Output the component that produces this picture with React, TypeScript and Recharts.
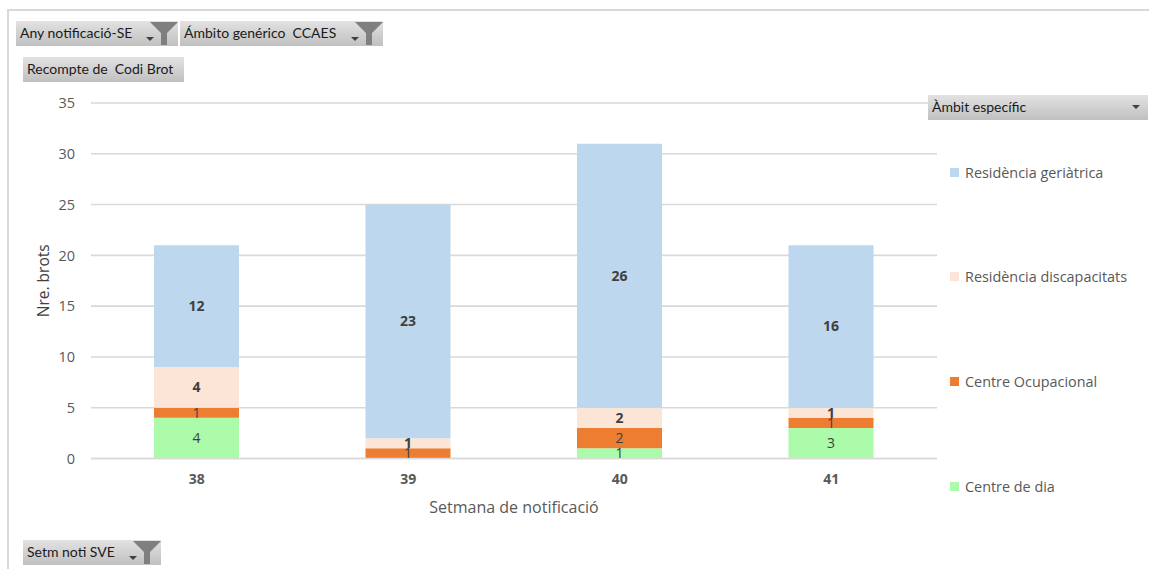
import React from "react";
import { BarChart, Bar, XAxis, YAxis, CartesianGrid, LabelList, Legend, Label } from "recharts";

const weeks = ["38", "39", "40", "41"];
const centreDia = [4, 0, 1, 3];
const centreOcupacional = [1, 1, 2, 1];
const residenciaDiscapacitats = [4, 1, 2, 1];
const residenciaGeriatrica = [12, 23, 26, 16];
const yTicks = [0, 5, 10, 15, 20, 25, 30, 35];

const rows = weeks.map((week, i) => ({
  week,
  dia: centreDia[i],
  ocupacional: centreOcupacional[i],
  discapacitats: residenciaDiscapacitats[i],
  geriatrica: residenciaGeriatrica[i],
}));

const seriesList = [
  { key: "dia", name: "Centre de dia", color: "#ABFBAB", bold: false },
  { key: "ocupacional", name: "Centre Ocupacional", color: "#ED7D31", bold: false },
  { key: "discapacitats", name: "Residència discapacitats", color: "#FBE5D6", bold: true },
  { key: "geriatrica", name: "Residència geriàtrica", color: "#BDD7EE", bold: true },
];

const FONT = "'Open Sans', sans-serif";
const BTN_FONT = "Lato, sans-serif";

function Funnel() {
  return (
    <svg width={28} height={24} style={{ position: "absolute", right: 0, top: 0 }}>
      <polygon points="0,1 28,1 17,12 17,24 11,24 11,12" fill="#7f7f7f" />
    </svg>
  );
}

function Arrow({ right, bottom }: { right: number; bottom: number }) {
  return (
    <svg width={8} height={5} style={{ position: "absolute", right, bottom }}>
      <polygon points="0,0 8,0 4,4" fill="#404040" />
    </svg>
  );
}

function PivotButton(props: {
  text: string; left: number; top: number; width: number; filter?: boolean; arrowRight?: number; arrowBottom?: number;
}) {
  return (
    <div
      style={{
        position: "absolute", left: props.left, top: props.top, width: props.width, height: 25,
        background: "linear-gradient(#e2e2e2, #c0c0c0)", color: "#1a1a1a",
        fontFamily: BTN_FONT, fontSize: 14, lineHeight: "24px", paddingLeft: 4,
        boxSizing: "border-box", whiteSpace: "pre", overflow: "hidden",
      }}
    >
      {props.text}
      {props.arrowRight !== undefined && <Arrow right={props.arrowRight} bottom={props.arrowBottom ?? 4} />}
      {props.filter && <Funnel />}
    </div>
  );
}

function LegendBox(props: any) {
  const payload = props.payload || [];
  const items = [...seriesList].reverse().map((s) => payload.find((p: any) => p.value === s.name)).filter(Boolean);
  return (
    <div style={{ position: "relative", width: 200, height: 340 }}>
      {items.map((it: any, i: number) => (
        <div
          key={it.value}
          style={{
            position: "absolute", left: 0, top: i * 104.7, display: "flex", alignItems: "center",
            fontFamily: FONT, fontSize: 14.4, color: "#595959", whiteSpace: "nowrap", height: 20,
          }}
        >
          <span style={{ width: 9, height: 9, background: it.color, marginRight: 6, display: "inline-block" }} />
          {it.value}
        </div>
      ))}
    </div>
  );
}

export default function App() {
  return (
    <div style={{ position: "absolute", left: 0, top: 0, width: 1149, height: 569, overflow: "hidden", background: "#fff" }}>
      <div style={{ position: "absolute", left: 7, top: 9, width: 1142, height: 560, borderLeft: "2px solid #d9d9d9", borderTop: "2px solid #d9d9d9", boxSizing: "border-box" }} />
      <BarChart
        width={1149}
        height={569}
        data={rows}
        margin={{ top: 103, right: 12, bottom: 80.5, left: 41 }}
        style={{ position: "absolute", left: 0, top: 0 }}
      >
        <CartesianGrid horizontal vertical={false} stroke="#d9d9d9" strokeWidth={1.6} />
        <XAxis
          dataKey="week"
          height={30}
          tickLine={false}
          axisLine={{ stroke: "#d9d9d9", strokeWidth: 1.6 }}
          tickMargin={10}
          tick={{ fontFamily: FONT, fontSize: 14, fontWeight: 700, fill: "#595959" }}
        >
          <Label value="Setmana de notificació" position="bottom" offset={13} style={{ fontFamily: FONT, fontSize: 16, fill: "#595959" }} />
        </XAxis>
        <YAxis
          width={50}
          domain={[0, 35]}
          ticks={yTicks}
          tickLine={false}
          axisLine={false}
          tickMargin={10}
          tick={{ fontFamily: FONT, fontSize: 14.5, fill: "#595959" }}
        >
          <Label value="Nre. brots" angle={-90} position="left" offset={-2} style={{ fontFamily: FONT, fontSize: 15.5, fill: "#404040", textAnchor: "middle" }} />
        </YAxis>
        <Legend
          layout="vertical"
          verticalAlign="top"
          align="right"
          content={<LegendBox />}
          wrapperStyle={{ left: 950, top: 162, width: 200 }}
        />
        {seriesList.map((s) => (
          <Bar key={s.key} dataKey={s.key} name={s.name} stackId="a" fill={s.color} barSize={85} isAnimationActive={false}>
            <LabelList
              dataKey={s.key}
              position="center"
              formatter={(v: any) => (v ? v : "")}
              style={{ fontFamily: FONT, fontSize: 14, fontWeight: s.bold ? 700 : 400, fill: "#404040" }}
            />
          </Bar>
        ))}
      </BarChart>
      <PivotButton text="Any notificació-SE" left={16} top={21} width={162} filter arrowRight={24} />
      <PivotButton text="Ámbito genérico  CCAES" left={180} top={21} width={203} filter arrowRight={24} />
      <PivotButton text="Recompte de  Codi Brot" left={23} top={57} width={161} />
      <PivotButton text="Àmbit específic" left={928} top={95} width={220} arrowRight={8} arrowBottom={10} />
      <PivotButton text="Setm noti SVE" left={23} top={540} width={138} filter arrowRight={24} />
    </div>
  );
}
